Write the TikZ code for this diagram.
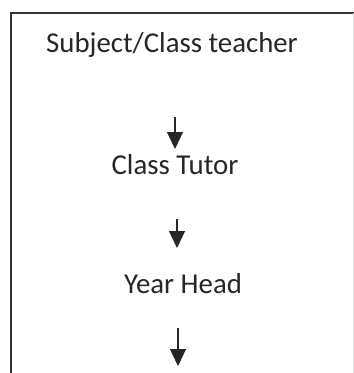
\documentclass[tikz,border=0pt]{standalone}
\usepackage{fontspec}
\setmainfont{Carlito}
\usetikzlibrary{arrows.meta}
\definecolor{ink}{HTML}{262626}
\definecolor{frame}{HTML}{333333}
\begin{document}
\begin{tikzpicture}[x=1pt,y=-1pt,
  label/.style={anchor=base,inner sep=0pt,text=ink,font=\fontsize{28.8}{34}\selectfont},
  flow/.style={draw=ink,line width=1.2pt,-{Triangle[width=16pt,length=17pt]}}]
\useasboundingbox (0,0) rectangle (354,373);
% frame
\draw[frame,line width=2pt] (11,373) -- (11,12.5) -- (354,12.5);
\draw[black!12,line width=0.8pt] (353,12.5) -- (353,373);
% texts
\node[label] (subj) at (172,52) {Subject/Class teacher};
\node[label] (tutor) at (175,174) {Class Tutor};
\node[label] (head) at (183,293) {Year Head};
% arrow ends
\coordinate (a1s) at (175,117);
\coordinate (a1e) at (175,149);
\coordinate (a2s) at (177,219);
\coordinate (a2e) at (177,248);
\coordinate (a3s) at (178,328);
\coordinate (a3e) at (178,366);
\draw[flow] (a1s) -- (a1e);
\draw[flow] (a2s) -- (a2e);
\draw[flow] (a3s) -- (a3e);
\end{tikzpicture}
\end{document}
